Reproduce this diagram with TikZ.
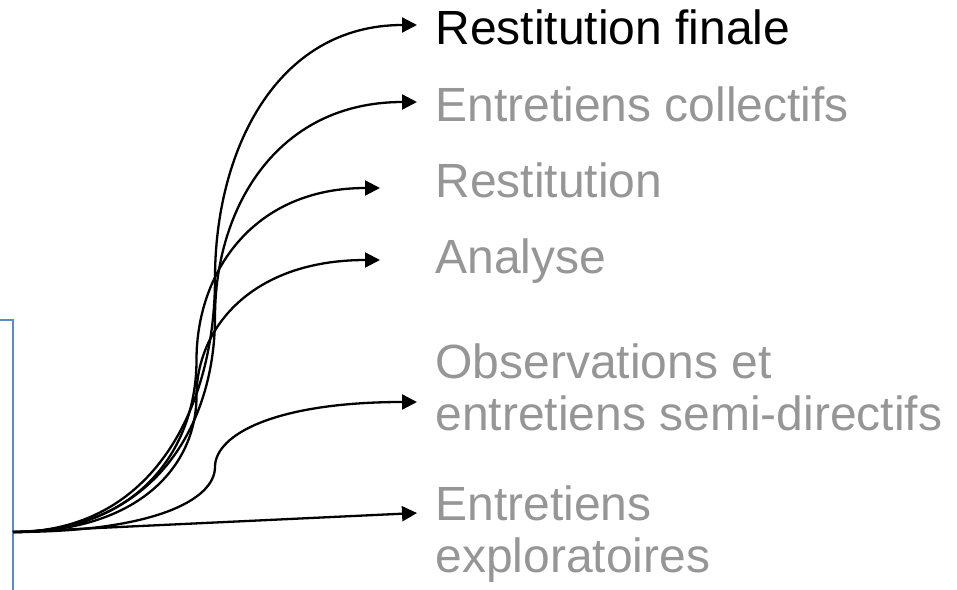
\documentclass[tikz,border=0pt]{standalone}
\usepackage{fontspec}
\setmainfont{Liberation Sans}
\usepackage{tikz}
\usetikzlibrary{positioning,arrows.meta,calc}
\definecolor{lblgray}{RGB}{150,150,150}
\definecolor{frameblue}{RGB}{91,139,200}
\tikzset{
  link/.style={-{Triangle[length=7.5pt,width=7.5pt]},line width=1.15pt,black},
  lbl/.style={anchor=base west,inner sep=0pt,align=left,lblgray,
    font=\fontsize{24}{26}\selectfont},
  lblon/.style={lbl,black},
  frame/.style={draw=frameblue,line width=1.4pt},
}
\begin{document}
\begin{tikzpicture}[x=0.5pt,y=-0.5pt]
  \useasboundingbox (0,0) rectangle (957,589);
  \draw[frame] (-20,320) -- (13,320) -- (13,600);
  % source point and arrow ends
  \coordinate (o) at (13,532);
  \coordinate (tfin) at (417,25);
  \coordinate (tcol) at (417,102);
  \coordinate (tres) at (380,188);
  \coordinate (tana) at (380,260);
  \coordinate (tobs) at (417,402);
  \coordinate (texp) at (417,513);
  % labels (multi-line ones sit on their last line)
  \node[lblon] (lfin) at (435,44) {Restitution finale};
  \node[lbl] (lcol) at (435,121) {Entretiens collectifs};
  \node[lbl] (lres) at (435,197) {Restitution};
  \node[lbl] (lana) at (435,273) {Analyse};
  \node[lbl] (lobs) at (435,430) {Observations et\\entretiens semi-directifs};
  \node[lbl] (lexp) at (435,572) {Entretiens\\exploratoires};
  % curved connectors
  \foreach \t in {tfin,tcol,tres,tana,tobs}{
    \draw[link] let \p1=(o), \p2=(\t),
      \n1={0.35*(\x2-\x1)}, \n2={0.25*(\y2-\y1)} in
      (o) .. controls +(\n1,0) and +(0,-\n2) .. ($(o)!0.5!(\t)$)
          .. controls +(0,\n2) and +(-\n1,0) .. (\t);
  }
  \draw[link] (o) -- (texp);
\end{tikzpicture}
\end{document}
